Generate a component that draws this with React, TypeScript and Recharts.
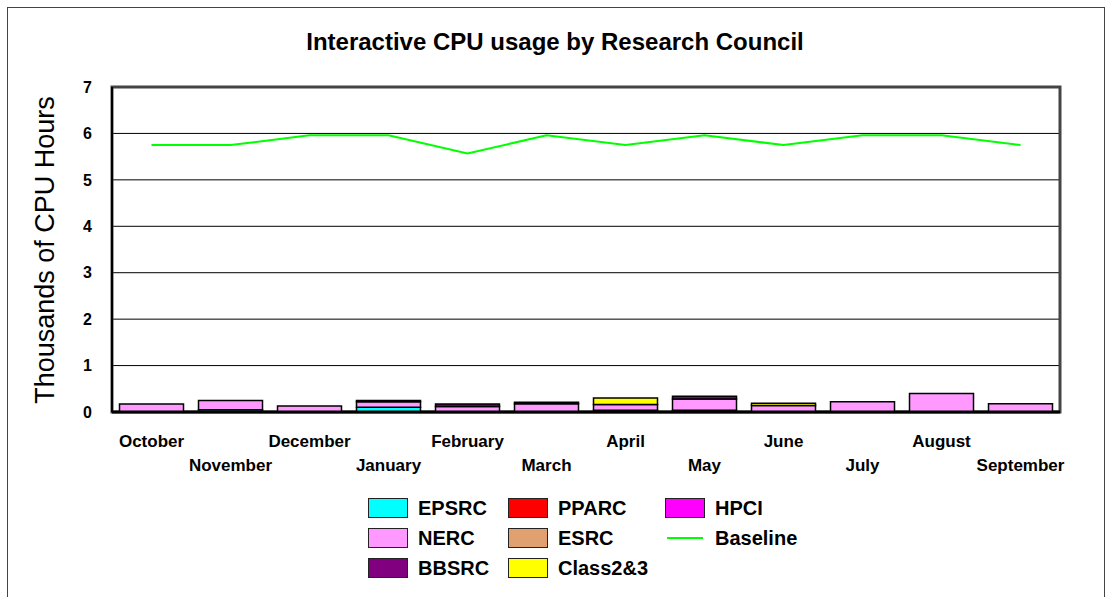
import React from "react";
import {
  ComposedChart,
  Bar,
  Line,
  XAxis,
  YAxis,
  CartesianGrid,
  Legend,
  ReferenceArea,
} from "recharts";

const FONT = "'Liberation Sans', Arial, sans-serif";

const months = [
  "October", "November", "December", "January", "February", "March",
  "April", "May", "June", "July", "August", "September",
];

// thousands of CPU hours
const epsrc = [0, 0.05, 0, 0.1, 0, 0, 0.04, 0.04, 0, 0, 0, 0];
const pparc = [0, 0, 0, 0, 0, 0, 0, 0, 0, 0, 0, 0];
const hpci = [0, 0, 0, 0, 0, 0, 0, 0, 0, 0, 0, 0];
const nerc = [0.17, 0.2, 0.13, 0.12, 0.12, 0.18, 0.12, 0.24, 0.14, 0.22, 0.4, 0.18];
const esrc = [0, 0, 0, 0.03, 0, 0, 0, 0, 0, 0, 0, 0];
const bbsrc = [0, 0, 0, 0, 0.05, 0, 0, 0.06, 0, 0, 0, 0];
const class23 = [0, 0, 0, 0, 0, 0.03, 0.14, 0, 0.05, 0, 0, 0];
const baseline = [5.75, 5.75, 5.96, 5.96, 5.57, 5.96, 5.75, 5.96, 5.75, 5.96, 5.96, 5.75];

const yTicks = [0, 1, 2, 3, 4, 5, 6, 7];

const series = [
  { key: "EPSRC", values: epsrc, color: "#00ffff" },
  { key: "PPARC", values: pparc, color: "#ff0000" },
  { key: "HPCI", values: hpci, color: "#ff00ff" },
  { key: "NERC", values: nerc, color: "#ff99ff" },
  { key: "ESRC", values: esrc, color: "#e0a070" },
  { key: "BBSRC", values: bbsrc, color: "#800080" },
  { key: "Class2&3", values: class23, color: "#ffff00" },
];

const rows = months.map((m, i) => {
  const row: Record<string, string | number> = { month: m, Baseline: baseline[i] };
  for (const s of series) row[s.key] = s.values[i];
  return row;
});

// legend layout: 3 columns, filled row by row
const legendItems = [
  { name: "EPSRC", color: "#00ffff" },
  { name: "PPARC", color: "#ff0000" },
  { name: "HPCI", color: "#ff00ff" },
  { name: "NERC", color: "#ff99ff" },
  { name: "ESRC", color: "#e0a070" },
  { name: "Baseline", color: "#00ff00", line: true },
  { name: "BBSRC", color: "#800080" },
  { name: "Class2&3", color: "#ffff00" },
];
const legendCols = [0, 140, 297];

function MonthTick(props: any) {
  const { x, y, payload, index } = props;
  const dy = index % 2 === 0 ? 35 : 59;
  return (
    <text
      x={x}
      y={y + dy}
      textAnchor="middle"
      fontFamily={FONT}
      fontWeight="bold"
      fontSize={17}
      fill="#000"
    >
      {payload.value}
    </text>
  );
}

function ChartLegend() {
  return (
    <div style={{ position: "relative", width: 480, height: 100, fontFamily: FONT }}>
      {legendItems.map((it, i) => {
        const left = legendCols[i % 3];
        const top = Math.floor(i / 3) * 30;
        return (
          <div key={it.name} style={{ position: "absolute", left, top, height: 20, display: "flex", alignItems: "center" }}>
            {it.line ? (
              <div style={{ width: 38, height: 20, display: "flex", alignItems: "center", marginLeft: 2 }}>
                <div style={{ width: 36, height: 2, background: it.color }} />
              </div>
            ) : (
              <div
                style={{
                  width: 38,
                  height: 18,
                  background: it.color,
                  border: "1.5px solid #222",
                }}
              />
            )}
            <span
              style={{
                marginLeft: 10,
                fontWeight: "bold",
                fontSize: 20,
                color: "#000",
                whiteSpace: "nowrap",
              }}
            >
              {it.name}
            </span>
          </div>
        );
      })}
    </div>
  );
}

export default function App() {
  return (
    <div
      style={{
        position: "absolute",
        left: 0,
        top: 0,
        width: 1110,
        height: 597,
        overflow: "hidden",
        background: "#fff",
        fontFamily: FONT,
      }}
    >
      <div
        style={{
          position: "absolute",
          left: 7,
          top: 7,
          width: 1096,
          height: 640,
          border: "1.5px solid #444",
        }}
      />
      <div
        style={{
          position: "absolute",
          left: 0,
          top: 28,
          width: 1110,
          textAlign: "center",
          fontWeight: "bold",
          fontSize: 24,
          lineHeight: "28px",
          color: "#000",
        }}
      >
        Interactive CPU usage by Research Council
      </div>
      <div style={{ position: "absolute", left: 0, top: 0 }}>
        <ComposedChart
          width={1110}
          height={597}
          data={rows}
          margin={{ top: 87, right: 50, bottom: 105, left: 72 }}
          barCategoryGap="9.5%"
        >
          <ReferenceArea y1={0} y2={7} fill="none" stroke="#444" strokeWidth={3} ifOverflow="visible" />
          <CartesianGrid horizontal vertical={false} stroke="#000" strokeWidth={1} />
          <XAxis
            dataKey="month"
            interval={0}
            tickLine={false}
            tickSize={0}
            tickMargin={0}
            height={80}
            axisLine={{ stroke: "#000", strokeWidth: 3 }}
            tick={<MonthTick />}
          />
          <YAxis
            domain={[0, 7]}
            ticks={yTicks}
            width={40}
            tickLine={false}
            tickSize={0}
            tickMargin={20}
            axisLine={{ stroke: "#000", strokeWidth: 2 }}
            tick={{ fill: "#000", fontFamily: FONT, fontWeight: "bold", fontSize: 16 }}
            label={{
              content: () => (
                <text
                  x={45}
                  y={250}
                  transform="rotate(-90 45 250)"
                  textAnchor="middle"
                  dominantBaseline="central"
                  fontFamily={FONT}
                  fontSize={27}
                  fill="#000"
                >
                  Thousands of CPU Hours
                </text>
              ),
            }}
          />
          {series.map((s) => (
            <Bar
              key={s.key}
              dataKey={s.key}
              stackId="a"
              fill={s.color}
              stroke="#000"
              strokeWidth={1.5}
              isAnimationActive={false}
            />
          ))}
          <Line
            dataKey="Baseline"
            stroke="#00ff00"
            strokeWidth={2}
            dot={false}
            type="linear"
            isAnimationActive={false}
          />
          <Legend
            layout="horizontal"
            verticalAlign="middle"
            align="center"
            wrapperStyle={{ left: 368, top: 498, width: 480, height: 100 }}
            content={() => <ChartLegend />}
          />
        </ComposedChart>
      </div>
    </div>
  );
}
